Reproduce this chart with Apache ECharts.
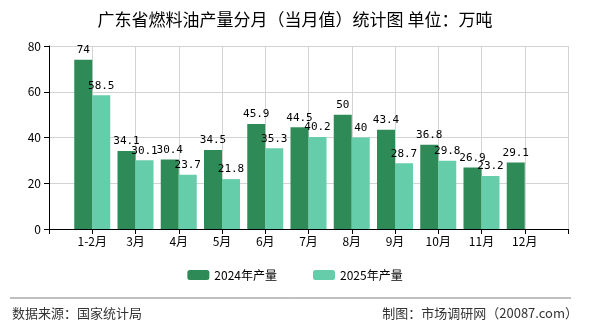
<!DOCTYPE html>
<html>
<head>
<meta charset="utf-8">
<script src="https://cdn.jsdelivr.net/npm/echarts@6/dist/echarts.min.js"></script>
<style>
  html, body { margin: 0; padding: 0; background: #fff; }
  #chart { width: 590px; height: 330px; }
</style>
</head>
<body>
<div id="chart"></div>
<script>
const months = ['1-2月', '3月', '4月', '5月', '6月', '7月', '8月', '9月', '10月', '11月', '12月']
const output2024 = [74, 34.1, 30.4, 34.5, 45.9, 44.5, 50, 43.4, 36.8, 26.9, 29.1]
const output2025 = [58.5, 30.1, 23.7, 21.8, 35.3, 40.2, 40, 28.7, 29.8, 23.2, null]
const yTicks = [0, 20, 40, 60, 80]

// empty slot on both ends so the months sit on the ticks
const axisData = [''].concat(months, [''])
const pad = arr => [null].concat(arr, [null])

const font = '"Noto Sans CJK SC", "Noto Sans", sans-serif'

const chart = echarts.init(document.getElementById('chart'))

const barLabel = {
  show: true,
  position: 'top',
  color: '#000',
  fontSize: 11,
  fontFamily: '"DejaVu Sans Mono", monospace',
  distance: 4
}

chart.setOption({
  animation: false,
  title: {
    text: '广东省燃料油产量分月（当月值）统计图 单位：万吨',
    left: 'center',
    top: 6,
    textStyle: { fontSize: 17, fontWeight: 'normal', color: '#000', fontFamily: font }
  },
  legend: {
    bottom: 44,
    left: 'center',
    itemWidth: 22,
    itemHeight: 10,
    itemGap: 36,
    textStyle: { fontSize: 12, color: '#000', fontFamily: font },
    data: ['2024年产量', '2025年产量']
  },
  grid: { left: 49, right: 22, top: 46, bottom: 101, containLabel: false },
  xAxis: {
    type: 'category',
    data: axisData,
    boundaryGap: false,
    axisLine: { lineStyle: { color: '#000' } },
    axisTick: { show: true, lineStyle: { color: '#000' } },
    axisLabel: { color: '#000', fontSize: 12, fontFamily: font, margin: 6, interval: 0 },
    splitLine: { show: true, lineStyle: { color: '#d3d3d3' } }
  },
  yAxis: {
    type: 'value',
    min: yTicks[0],
    max: yTicks[yTicks.length - 1],
    interval: 20,
    axisLine: { show: true, lineStyle: { color: '#000' } },
    axisTick: { show: true, lineStyle: { color: '#000' } },
    axisLabel: { color: '#000', fontSize: 12, fontFamily: font, margin: 8 },
    splitLine: { lineStyle: { color: '#d3d3d3' } }
  },
  series: [
    {
      name: '2024年产量',
      type: 'bar',
      data: pad(output2024),
      barWidth: 18,
      barGap: '0%',
      itemStyle: { color: '#2e8b57' },
      label: barLabel
    },
    {
      name: '2025年产量',
      type: 'bar',
      data: pad(output2025),
      barWidth: 18,
      barGap: '0%',
      itemStyle: { color: '#66cdaa' },
      label: barLabel
    }
  ],
  graphic: [
    {
      type: 'line',
      shape: { x1: 10, y1: 298, x2: 571, y2: 298 },
      style: { stroke: '#808080', lineWidth: 1 }
    },
    {
      type: 'text',
      left: 12,
      top: 307,
      style: { text: '数据来源：国家统计局', fontSize: 13, fill: '#333', fontFamily: font }
    },
    {
      type: 'text',
      right: 12,
      top: 307,
      style: { text: '制图：市场调研网（20087.com）', fontSize: 13, fill: '#333', fontFamily: font }
    }
  ]
})
</script>
</body>
</html>
